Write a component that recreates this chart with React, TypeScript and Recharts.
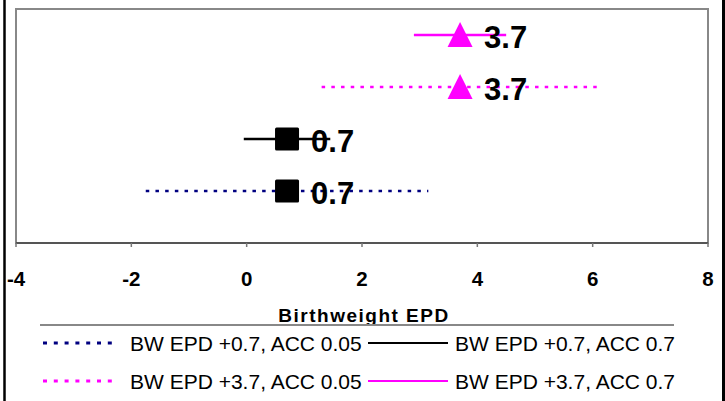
import React from "react"
import { ScatterChart, Scatter, XAxis, YAxis, ReferenceArea, Label } from "recharts"

const FONT = "Arial, 'Liberation Sans', Helvetica, sans-serif"

// four rows, bottom to top
const seriesNames = [
  "BW EPD +0.7, ACC 0.05",
  "BW EPD +0.7, ACC 0.7",
  "BW EPD +3.7, ACC 0.05",
  "BW EPD +3.7, ACC 0.7",
]
const rowPos = [1, 2, 3, 4]
const epdValues = [0.7, 0.7, 3.7, 3.7]
const errors = [2.45, 0.75, 2.4, 0.8]
const xTicks = [-4, -2, 0, 2, 4, 6, 8]

const lineColors = ["#000080", "#000000", "#ff00ff", "#ff00ff"]
const dotted = [true, false, true, false]
const markerColors = ["#000000", "#000000", "#ff00ff", "#ff00ff"]
const markerKinds = ["square", "square", "triangle", "triangle"]

const empty = () => <g />

function makeMarker(i: number) {
  return (props: any) => {
    const { cx, cy, payload } = props
    const label = (
      <text
        x={cx + 24}
        y={cy + 12.5}
        fontFamily={FONT}
        fontWeight="bold"
        fontSize={31}
        fill="#000"
      >
        {payload.x.toFixed(1)}
      </text>
    )
    if (markerKinds[i] === "triangle") {
      return (
        <g>
          <polygon
            points={`${cx},${cy - 13} ${cx + 12.5},${cy + 12} ${cx - 12.5},${cy + 12}`}
            fill={markerColors[i]}
          />
          {label}
        </g>
      )
    }
    return (
      <g>
        <rect x={cx - 12} y={cy - 11.5} width={24} height={23} rx={1.5} fill={markerColors[i]} />
        {label}
      </g>
    )
  }
}

function LegendOverlay() {
  const cols = [43, 368]
  const rows = [343, 381]
  return (
    <svg
      width={725}
      height={401}
      style={{ position: "absolute", left: 0, top: 0, pointerEvents: "none" }}
    >
      <line x1={4.5} y1={0} x2={4.5} y2={401} stroke="#000" strokeWidth={2.5} />
      <line x1={723.5} y1={0} x2={723.5} y2={401} stroke="#000" strokeWidth={3} />
      <line x1={40} y1={325} x2={674} y2={325} stroke="#888" strokeWidth={2} />
      {seriesNames.map((name, i) => {
        const lx = cols[i % 2]
        const ly = rows[Math.floor(i / 2)]
        const w = i % 2 === 0 ? 75 : 80
        return (
          <g key={name}>
            <line
              x1={lx}
              y1={ly}
              x2={lx + w}
              y2={ly}
              stroke={lineColors[i]}
              strokeWidth={dotted[i] ? 3 : 2}
              strokeDasharray={dotted[i] ? "4 6.8" : undefined}
            />
            <text x={lx + w + 12 - (i % 2 === 0 ? 0 : 5)} y={ly + 8} fontFamily={FONT} fontSize={21} fill="#000">
              {name}
            </text>
          </g>
        )
      })}
    </svg>
  )
}

export default function App() {
  return (
    <div style={{ position: "absolute", left: 0, top: 0, width: 725, height: 401, background: "#fff" }}>
      <ScatterChart width={725} height={401} margin={{ top: 9, right: 17, bottom: 78, left: 16 }}>
        <XAxis
          type="number"
          dataKey="x"
          domain={[-4, 8]}
          ticks={xTicks}
          interval={0}
          allowDataOverflow
          height={80}
          axisLine={{ stroke: "#444", strokeWidth: 1.5 }}
          tickLine={{ stroke: "#777", strokeWidth: 1.5 }}
          tickSize={4}
          tickMargin={24}
          tick={{ fontSize: 20.5, fontWeight: "bold", fill: "#000", fontFamily: FONT }}
        >
          <Label
            content={(p: any) => {
              const vb = p.viewBox
              return (
                <text
                  x={vb.x + vb.width / 2 + 2}
                  y={vb.y + 78.5}
                  textAnchor="middle"
                  fontFamily={FONT}
                  fontWeight="bold"
                  fontSize={19}
                  letterSpacing={1.5}
                  fill="#000"
                >
                  Birthweight EPD
                </text>
              )
            }}
          />
        </XAxis>
        <YAxis type="number" dataKey="y" domain={[0, 4.5]} hide />
        <ReferenceArea
          x1={-4}
          x2={8}
          y1={0}
          y2={4.5}
          fill="none"
          stroke="#888"
          strokeWidth={2}
          ifOverflow="extendDomain"
        />
        {seriesNames.map((name, i) => (
          <Scatter
            key={"line-" + name}
            name={name}
            data={[
              { x: epdValues[i] - errors[i], y: rowPos[i] },
              { x: epdValues[i] + errors[i], y: rowPos[i] },
            ]}
            line={{
              stroke: lineColors[i],
              strokeWidth: dotted[i] ? 2.5 : 2.3,
              strokeDasharray: dotted[i] ? "3.5 6.2" : undefined,
            }}
            shape={empty}
            fill={lineColors[i]}
            isAnimationActive={false}
          />
        ))}
        {seriesNames.map((name, i) => (
          <Scatter
            key={"pt-" + name}
            data={[{ x: epdValues[i], y: rowPos[i] }]}
            shape={makeMarker(i)}
            fill={markerColors[i]}
            isAnimationActive={false}
          />
        ))}
      </ScatterChart>
      <LegendOverlay />
    </div>
  )
}
